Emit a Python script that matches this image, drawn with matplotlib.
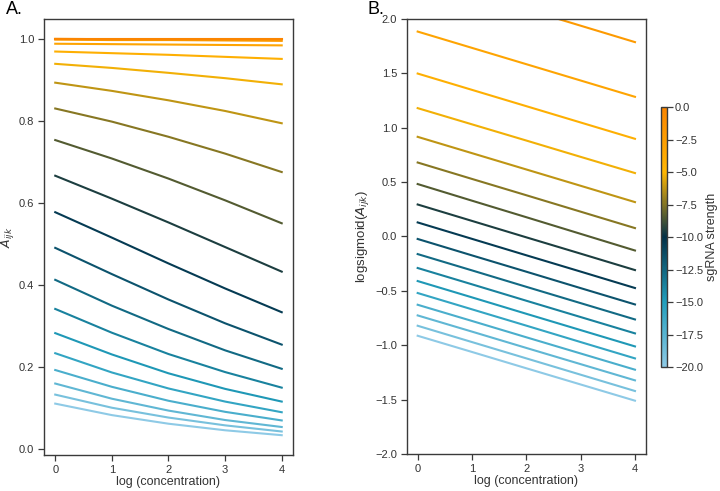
import numpy as np
import matplotlib
matplotlib.use("Agg")
import matplotlib.pyplot as plt
from matplotlib.colors import LinearSegmentedColormap, Normalize
from matplotlib.cm import ScalarMappable

plt.rcParams['font.family'] = ['Liberation Sans', 'DejaVu Sans']

# log concentration values
log_conc = [0, 1, 2, 3, 4]

# sgRNA strengths, one line per strength (20 steps from -20 to 0)
strengths = [-20.0, -18.95, -17.89, -16.84, -15.79, -14.74, -13.68,
             -12.63, -11.58, -10.53, -9.47, -8.42, -7.37, -6.32,
             -5.26, -4.21, -3.16, -2.11, -1.05, 0.0]

# panel A: A_ijk per strength (rows) and concentration (columns)
a_ijk = [
    [0.110, 0.082, 0.061, 0.045, 0.033],
    [0.132, 0.100, 0.076, 0.057, 0.042],
    [0.159, 0.122, 0.093, 0.070, 0.053],
    [0.192, 0.151, 0.117, 0.090, 0.069],
    [0.233, 0.186, 0.147, 0.115, 0.089],
    [0.282, 0.230, 0.184, 0.146, 0.115],
    [0.341, 0.283, 0.231, 0.187, 0.149],
    [0.412, 0.349, 0.292, 0.240, 0.195],
    [0.490, 0.426, 0.364, 0.306, 0.254],
    [0.577, 0.515, 0.452, 0.391, 0.333],
    [0.666, 0.610, 0.552, 0.492, 0.432],
    [0.753, 0.708, 0.659, 0.606, 0.550],
    [0.830, 0.798, 0.761, 0.720, 0.675],
    [0.893, 0.873, 0.850, 0.824, 0.794],
    [0.939, 0.929, 0.917, 0.904, 0.889],
    [0.969, 0.965, 0.961, 0.956, 0.951],
    [0.988, 0.987, 0.986, 0.985, 0.984],
    [0.998, 0.997, 0.997, 0.996, 0.995],
    [1.000, 0.999, 0.999, 0.999, 0.999],
    [1.000, 1.000, 1.000, 1.000, 1.000],
]

# panel B: logsigmoid(A_ijk)
logsig = [
    [-0.913, -1.062, -1.212, -1.361, -1.510],
    [-0.821, -0.971, -1.121, -1.271, -1.421],
    [-0.726, -0.875, -1.025, -1.174, -1.323],
    [-0.628, -0.777, -0.927, -1.076, -1.225],
    [-0.520, -0.670, -0.820, -0.971, -1.121],
    [-0.410, -0.560, -0.711, -0.861, -1.011],
    [-0.290, -0.440, -0.591, -0.741, -0.891],
    [-0.162, -0.312, -0.463, -0.613, -0.763],
    [-0.023, -0.174, -0.324, -0.475, -0.625],
    [0.129, -0.022, -0.173, -0.323, -0.474],
    [0.294, 0.143, -0.008, -0.158, -0.309],
    [0.482, 0.329, 0.177, 0.024, -0.129],
    [0.680, 0.529, 0.379, 0.228, 0.077],
    [0.916, 0.766, 0.616, 0.466, 0.316],
    [1.180, 1.031, 0.882, 0.732, 0.583],
    [1.498, 1.348, 1.198, 1.048, 0.898],
    [1.884, 1.734, 1.584, 1.434, 1.284],
    [2.390, 2.239, 2.089, 1.938, 1.787],
    [3.100, 2.950, 2.800, 2.650, 2.500],
    [4.200, 4.050, 3.900, 3.750, 3.600],
]

palette = ['#8ecae6', '#219ebc', '#023047', '#ffb703', '#fb8500']
cmap = LinearSegmentedColormap.from_list('sgrna', palette)
norm = Normalize(vmin=-20, vmax=0)

edge = '#3a3a3a'
text_c = '#333333'

fig = plt.figure(figsize=(7.2, 4.91), dpi=100)
ax1 = fig.add_axes([0.061, 0.0733, 0.346, 0.888])
ax2 = fig.add_axes([0.565, 0.0754, 0.332, 0.886])
cax = fig.add_axes([0.918, 0.2525, 0.008, 0.5295])

for s, ya, yb in zip(strengths, a_ijk, logsig):
    c = cmap(norm(s))
    ax1.plot(log_conc, ya, color=c, lw=1.5)
    ax2.plot(log_conc, yb, color=c, lw=1.5)

ax1.set_ylabel('$A_{ijk}$', color=text_c, fontsize=9, labelpad=2)
ax2.set_ylabel('logsigmoid($A_{ijk}$)', color=text_c, fontsize=9.5, labelpad=3)
ax2.set_ylim(-2, 2)
ax1.set_yticks([0.0, 0.2, 0.4, 0.6, 0.8, 1.0])
ax2.set_yticks([-2.0, -1.5, -1.0, -0.5, 0.0, 0.5, 1.0, 1.5, 2.0])

for ax in (ax1, ax2):
    ax.set_xlim(-0.2, 4.2)
    ax.set_xticks(log_conc)
    ax.set_xlabel('log (concentration)', color=text_c, fontsize=9, labelpad=1)
    ax.tick_params(direction='out', length=4, width=0.9, color=edge,
                   labelcolor=text_c, labelsize=8, pad=3)
    for sp in ax.spines.values():
        sp.set_color(edge)
        sp.set_linewidth(1.0)

cb = fig.colorbar(ScalarMappable(norm=norm, cmap=cmap), cax=cax)
cb.set_ticks([0, -2.5, -5, -7.5, -10, -12.5, -15, -17.5, -20])
cb.set_label('sgRNA strength', color=text_c, fontsize=9, labelpad=2)
cb.ax.tick_params(direction='out', length=4, width=0.9, color=edge,
                  labelcolor=text_c, labelsize=8, pad=2)
cb.outline.set_edgecolor(edge)
cb.outline.set_linewidth(1.0)

fig.text(0.008, 0.972, 'A.', fontsize=13, color='black')
fig.text(0.511, 0.972, 'B.', fontsize=13, color='black')

fig.savefig('out.png', dpi=100)
